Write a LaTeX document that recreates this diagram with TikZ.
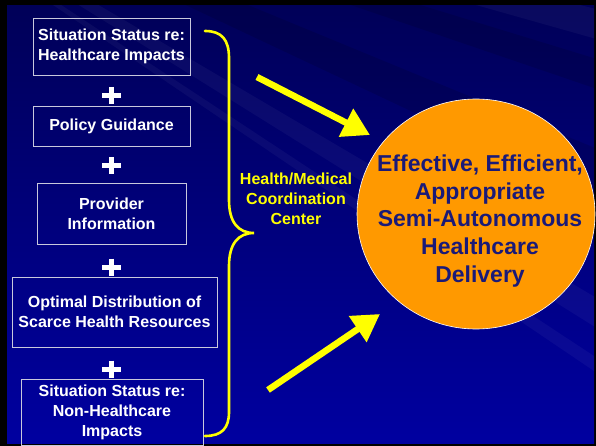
\documentclass[tikz,border=0pt]{standalone}
\usepackage{fontspec}
\setmainfont{Liberation Sans}
\usetikzlibrary{arrows.meta,shapes.geometric}
\definecolor{ylw}{RGB}{255,255,0}
\definecolor{orng}{RGB}{255,153,0}
\definecolor{navytxt}{RGB}{26,26,120}
\definecolor{bgtop}{RGB}{0,0,88}
\definecolor{bgbot}{RGB}{0,0,160}
\definecolor{boxline}{RGB}{200,200,220}
\begin{document}
\begin{tikzpicture}[x=1pt,y=-1pt,
  boxst/.style={draw=boxline, line width=0.8pt, align=center, text=white,
    font=\bfseries\fontsize{16}{20}\selectfont, inner sep=0pt},
  plusst/.style={draw=white, line width=5pt},
  bracest/.style={draw=ylw, line width=2.6pt, line cap=round},
  arrowst/.style={draw=ylw, line width=6.5pt, -{Triangle[length=27pt 0 0,width=30pt 0 0]}, fill=ylw},
  ray/.style={fill=white, opacity=0.04},
  darkray/.style={fill=black, opacity=0.12}
]
\useasboundingbox (0,0) rectangle (596,446);
% background
\fill[black] (0,0) rectangle (596,446);
\shade[top color=bgtop, bottom color=bgbot] (7,6) rectangle (594,443);
\begin{scope}
\clip (7,6) rectangle (594,443);
\fill[ray] (-250,-200) -- (600,10) -- (600,40) -- cycle;
\fill[darkray] (-250,-200) -- (600,60) -- (600,90) -- cycle;
\fill[ray] (-250,-200) -- (600,300) -- (600,330) -- cycle;
\fill[ray] (-250,-200) -- (600,360) -- (600,375) -- cycle;
\fill[ray] (-250,-200) -- (420,-10) -- (470,-10) -- cycle;
\fill[darkray] (-250,-200) -- (600,150) -- (600,200) -- cycle;
\end{scope}

% boxes
\node[boxst, minimum width=157pt, minimum height=57pt] (b1) at (111.5,46.5) {Situation Status re:\\Healthcare Impacts};
\node[boxst, minimum width=157pt, minimum height=40pt] (b2) at (111.5,126) {Policy Guidance};
\node[boxst, minimum width=149pt, minimum height=61pt] (b3) at (111.5,213.5) {Provider\\Information};
\node[boxst, minimum width=205pt, minimum height=70pt] (b4) at (114.5,312) {Optimal Distribution of\\Scarce Health Resources};
\node[boxst, minimum width=182pt, minimum height=66pt] (b5) at (112,412) {Situation Status re:\\Non-Healthcare\\Impacts};

% plus signs
\foreach \py in {95.5,166,267,369}{
  \draw[plusst] (102,\py) -- (121,\py);
  \draw[plusst] (111.5,\py-8.5) -- (111.5,\py+8.5);
}

% brace
\coordinate (bt) at (205,31);
\coordinate (bm) at (254,233);
\coordinate (bb) at (205,436);
\draw[bracest] (bt) .. controls (222,31) and (229,40) .. (229,58)
  -- (229,200) .. controls (229,222) and (238,233) .. (bm)
  .. controls (238,233) and (229,244) .. (229,266)
  -- (229,412) .. controls (229,428) and (222,436) .. (bb);
\node[align=center, text=ylw, font=\bfseries\fontsize{16}{20}\selectfont] (lbl) at (296,199) {Health/Medical\\Coordination\\Center};

% circle
\node[ellipse, fill=orng, draw=white, line width=0.6pt, minimum width=238pt, minimum height=230pt, inner sep=0pt] (circ) at (476,214) {};
\node[align=center, text=navytxt, font=\bfseries\fontsize{23}{27.7}\selectfont] (ctext) at (480,221) {Effective, Efficient,\\Appropriate\\Semi-Autonomous\\Healthcare\\Delivery};

% arrows
\coordinate (a1s) at (257,77);
\coordinate (a1e) at (370,135);
\coordinate (a2s) at (268,390);
\coordinate (a2e) at (380,314);
\draw[arrowst] (a1s) -- (a1e);
\draw[arrowst] (a2s) -- (a2e);
\end{tikzpicture}
\end{document}
